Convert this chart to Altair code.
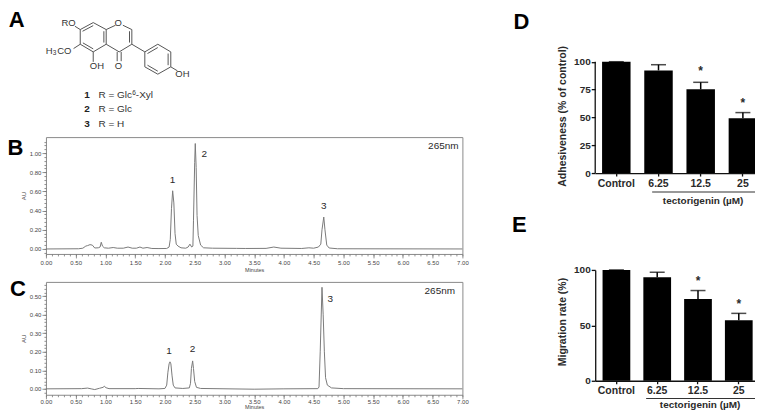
import altair as alt
import pandas as pd

FONT = "Liberation Sans"
GREY = "#7a7a7a"
TXT = "#2a2a2a"

# ---------- panel A: structure, in reference units (3 units = 1 px) ----------
bond_x1 = [238,277,316,316,277,238, 316,366,393,393,355, 432,471,510,510,471,432, 393, 238,238,277,510, 349,361, 245,309,246, 386, 440,502,471]
bond_y1 = [88,67,88,132,155,132, 88,75,88,132,155, 155,132,155,200,222,200, 132, 88,132,155,200, 155,155, 93,93,128, 93, 160,160,213]
bond_x2 = [277,316,316,277,238,238, 344,393,393,355,316, 471,510,510,471,432,432, 432, 222,218,277,530, 349,361, 277,309,277, 386, 471,502,440]
bond_y2 = [67,88,132,155,132,88, 75,88,132,155,132, 132,155,200,222,200,155, 155, 78,145,185,212, 183,183, 76,127,146, 127, 142,195,195]

atom_text = ["O","RO","CO","H","OH","O","OH"]
atom_x = [352,203,190,145,288,353,545]
atom_y = [68,68,153,153,198,198,220]

legend_text = ["R = Glc","-Xyl","R = Glc","R = H"]
legend_x = [293,405,293,293]
legend_y = [285,285,328,371]
sup_text = ["6","3"]
sup_x = [400,161]
sup_y = [279,159]
ids = ["1","2","3"]
ids_x = [258,258,258]
ids_y = [285,328,371]

letters_left = ["A","B","C"]
letters_x = [47,43,51]
letters_y = [60,444,867]

# ---------- panel B: chromatogram ----------
b_t = [0,.55,.62,.67,.70,.74,.78,.82,.88,.91,.93,.95,.98,1.05,1.13,1.2,1.3,1.38,1.45,1.52,1.58,1.63,1.70,1.78,1.9,2.03,2.07,2.09,2.11,2.13,2.15,2.17,2.19,2.22,2.27,2.35,2.39,2.42,2.45,2.47,2.48,2.50,2.51,2.525,2.54,2.56,2.60,2.65,2.8,3.2,3.35,3.7,3.83,3.95,4.3,4.42,4.5,4.58,4.62,4.64,4.67,4.69,4.72,4.76,4.9,7]
b_v = [0,.002,.008,.03,.035,.045,.04,.01,.012,.02,.07,.03,.012,.008,.015,.008,.008,.02,.008,.008,.02,.008,.015,.005,.004,.005,.02,.1,.42,.607,.48,.16,.05,.03,.012,.008,.02,.05,.02,.03,.3,.9,1.1,.85,.35,.14,.04,.012,.008,.006,.005,.006,.02,.008,.005,.012,.008,.02,.05,.2,.333,.2,.04,.01,.002,0]
b_lab = ["1","2","3","265nm"]
b_lab_t = [2.127,2.66,4.67,6.68]
b_lab_v = [.72,.99,.448,1.07]
b_major_y = [0,.2,.4,.6,.8,1.0]
b_minor_y = [round(i*.04,2) for i in range(-1,29)]

# ---------- panel C: chromatogram ----------
c_t = [0,.6,.7,.76,.82,.9,.96,.98,1.01,1.06,1.5,1.55,1.9,2.0,2.03,2.05,2.07,2.085,2.10,2.12,2.14,2.17,2.3,2.41,2.43,2.445,2.466,2.48,2.5,2.53,2.6,3.5,4,4.57,4.59,4.61,4.64,4.66,4.68,4.70,4.73,4.8,5,7]
c_v = [0,.001,.004,0,-.004,.003,.008,.014,.006,.001,.001,.002,0,.002,.02,.09,.135,.146,.135,.07,.02,.005,.002,.005,.03,.11,.151,.11,.04,.008,.002,-.002,0,.001,.01,.2,.549,.4,.2,.06,.02,.005,.001,0]
c_lab = ["1","2","3","265nm"]
c_lab_t = [2.07,2.465,4.78,6.62]
c_lab_v = [.203,.216,.486,.53]
c_major_y = [0,.1,.2,.3,.4,.5]
c_minor_y = [round(i*.02,2) for i in range(-1,29)]

major_x = [0,.5,1,1.5,2,2.5,3,3.5,4,4.5,5,5.5,6,6.5,7]
minor_x = [round(i*.1,1) for i in range(71)]

# ---------- panels D, E: bars ----------
cats = ["Control","6.25","12.5","25"]
d_vals = [100,92.2,75.2,49.3]
d_top = [100,97.3,81.5,54.3]
d_star = [None,None,93,64.8]
e_vals = [100,93.4,73.7,54.5]
e_top = [100,97.9,81.4,60.8]
e_star = [None,None,91.9,71.5]


def chrom(t, v, lab, lab_t, lab_v, ydom, major_y, minor_y, w, h, title_pad, label_pad):
    df = pd.DataFrame({"t": t, "v": v})
    labs = pd.DataFrame({"s": lab, "t": lab_t, "v": lab_v})
    xs = alt.Scale(domain=[0, 7], nice=False, zero=False)
    ys = alt.Scale(domain=ydom, nice=False, zero=False)
    common = dict(domain=False, grid=False, tickColor="#777", tickWidth=0.8, labels=False, title=None)
    minor = alt.Chart(df).mark_line(strokeOpacity=0).encode(
        x=alt.X("t:Q", scale=xs, axis=alt.Axis(orient="bottom", values=minor_x, tickSize=2, **common)),
        y=alt.Y("v:Q", scale=ys, axis=alt.Axis(orient="left", values=minor_y, tickSize=2, **common)),
    )
    label_style = dict(labelFont=FONT, labelFontSize=6, labelColor="#444", titleFont=FONT,
                       titleColor="#444", titleFontWeight="normal", domain=False, grid=False,
                       tickColor="#777", tickWidth=0.8, tickSize=4, labelOverlap=False)
    line = alt.Chart(df).mark_line(color=GREY, strokeWidth=1, interpolate="linear").encode(
        x=alt.X("t:Q", scale=xs, axis=alt.Axis(orient="bottom", values=major_x, format=".2f", title="Minutes",
                                               titleFontSize=5.5, titlePadding=title_pad, labelPadding=label_pad,
                                               labelFlush=False, **label_style)),
        y=alt.Y("v:Q", scale=ys, axis=alt.Axis(orient="left", values=major_y, format=".2f", title="AU",
                                               titleFontSize=6, titlePadding=3, labelPadding=1,
                                               **label_style)),
    )
    text = alt.Chart(labs).mark_text(font=FONT, fontSize=10, color=TXT).encode(
        x=alt.X("t:Q", scale=xs, axis=None), y=alt.Y("v:Q", scale=ys, axis=None), text="s:N"
    )
    return alt.layer(minor, line, text).resolve_axis(x="independent", y="independent").properties(
        width=w, height=h, view=alt.ViewBackground(stroke="#8a8a8a", strokeWidth=1)
    )


def bars(vals, top, star, w, h, ydom, pad_i, pad_o, title, title_y, rule_px, rule_y, lab_px, lab_y,
         letter, letter_px, letter_y, draw_axis_rule):
    df = pd.DataFrame({"c": cats, "v": vals, "top": top, "star": star})
    xs = alt.Scale(domain=cats, paddingInner=pad_i, paddingOuter=pad_o)
    ys = alt.Scale(domain=ydom, nice=False, zero=True)
    x = alt.X("c:N", scale=xs, sort=cats, axis=alt.Axis(
        title=None, labelAngle=0, labelFont=FONT, labelFontWeight="bold", labelFontSize=10.5,
        labelColor=TXT, domainColor="#111", domainWidth=1.3, tickColor="#111", tickWidth=1.3,
        tickSize=3, labelPadding=2, grid=False))
    y = alt.Y("v:Q", scale=ys, axis=alt.Axis(
        values=[0, 25, 50, 75, 100], title=title, titleFont=FONT, titleFontWeight="bold",
        titleFontSize=10.5, titleColor=TXT, titleX=-28, titleY=title_y, labelFont=FONT,
        labelFontWeight="bold", labelFontSize=10, labelColor=TXT, domain=not draw_axis_rule,
        domainColor="#111", domainWidth=1.3, tickColor="#111", tickWidth=1.3, tickSize=4,
        labelPadding=1, grid=False, labelOverlap=False))
    layers = [
        alt.Chart(df).mark_bar(color="#000").encode(x=x, y=y),
        alt.Chart(df).mark_rule(color="#000", strokeWidth=1.5).encode(
            x=alt.X("c:N", scale=xs, sort=cats), y=alt.Y("v:Q", scale=ys), y2="top:Q"),
        alt.Chart(df).mark_tick(color="#000", orient="horizontal", size=15, thickness=1.5).encode(
            x=alt.X("c:N", scale=xs, sort=cats), y=alt.Y("top:Q", scale=ys)),
        alt.Chart(df[df["star"].notna()]).mark_text(
            font=FONT, fontSize=12, fontWeight="bold", color=TXT, text="*", dy=2).encode(
            x=alt.X("c:N", scale=xs, sort=cats), y=alt.Y("star:Q", scale=ys)),
        alt.Chart(pd.DataFrame({"y": [rule_y]})).mark_rule(color="#333", strokeWidth=1.2).encode(
            x=alt.value(rule_px[0]), x2=alt.value(rule_px[1]), y=alt.Y("y:Q", scale=ys)),
        alt.Chart(pd.DataFrame({"y": [lab_y], "s": ["tectorigenin (\u00b5M)"]})).mark_text(
            font=FONT, fontSize=10, fontWeight="bold", color=TXT).encode(
            x=alt.value(lab_px), y=alt.Y("y:Q", scale=ys), text="s:N"),
        alt.Chart(pd.DataFrame({"y": [letter_y], "s": [letter]})).mark_text(
            font=FONT, fontSize=22, fontWeight="bold", color="#000").encode(
            x=alt.value(letter_px), y=alt.Y("y:Q", scale=ys), text="s:N"),
    ]
    if draw_axis_rule:
        layers.append(alt.Chart(pd.DataFrame({"a": [0], "b": [100]})).mark_rule(
            color="#111", strokeWidth=1.3).encode(
            x=alt.value(0), y=alt.Y("a:Q", scale=ys), y2="b:Q"))
    return alt.layer(*layers).properties(
        width=w, height=h, view=alt.ViewBackground(stroke="transparent"))


# panel A
axs = alt.Scale(domain=[135, 1386], nice=False, zero=False)
ays = alt.Scale(domain=[327, 24], nice=False, zero=False)
xn = alt.X("x:Q", scale=axs, axis=None)
yn = alt.Y("y:Q", scale=ays, axis=None)


def txt(strings, xs_, ys_, **kw):
    return alt.Chart(pd.DataFrame({"s": strings, "x": xs_, "y": ys_})).mark_text(font=FONT, **kw).encode(
        x=xn, y=yn, text="s:N")


panel_a = alt.layer(
    alt.Chart(pd.DataFrame({"x": bond_x1, "y": bond_y1, "x2": bond_x2, "y2": bond_y2})).mark_rule(
        color="#555", strokeWidth=1).encode(x=xn, y=yn, x2="x2:Q", y2="y2:Q"),
    txt(atom_text, atom_x, atom_y, fontSize=9.5, color="#333"),
    txt(legend_text, legend_x, legend_y, fontSize=10, color="#333", align="left"),
    txt(sup_text, sup_x, sup_y, fontSize=6.5, color="#333"),
    txt(ids, ids_x, ids_y, fontSize=10, fontWeight="bold", color="#222"),
    txt(letters_left, letters_x, letters_y, fontSize=22, fontWeight="bold", color="#000"),
).properties(width=417, height=101, view=alt.ViewBackground(stroke="transparent"))

panel_b = chrom(b_t, b_v, b_lab, b_lab_t, b_lab_v, [-0.052, 1.167], b_major_y, b_minor_y, 417, 117, 2, 2)
panel_c = chrom(c_t, c_v, c_lab, c_lab_t, c_lab_v, [-0.032, 0.578], c_major_y, c_minor_y, 417, 113, 0, 0)

panel_d = bars(d_vals, d_top, d_star, 169, 165, [0, 148], 0.325, 0.1625,
               "Adhesiveness (% of control)", 107.7, (57, 160), -17, 108, -25.5,
               "D", -74, 136, True)
panel_e = bars(e_vals, e_top, e_star, 165, 111, [0, 100], 0.32, 0.18,
               "Migration rate (%)", 51.7, (51, 164), -16, 105, -21.5,
               "E", -76, 140.5, False)

left = alt.vconcat(panel_a, panel_b, panel_c, spacing=28, bounds="flush")
right = alt.vconcat(panel_d, panel_e, spacing=97, bounds="flush")
chart = alt.hconcat(left, right, spacing=42).properties(
    padding={"left": -2, "top": -1, "right": -10, "bottom": -1})

chart.save("out.html", embed_options={"renderer": "svg", "actions": False})
